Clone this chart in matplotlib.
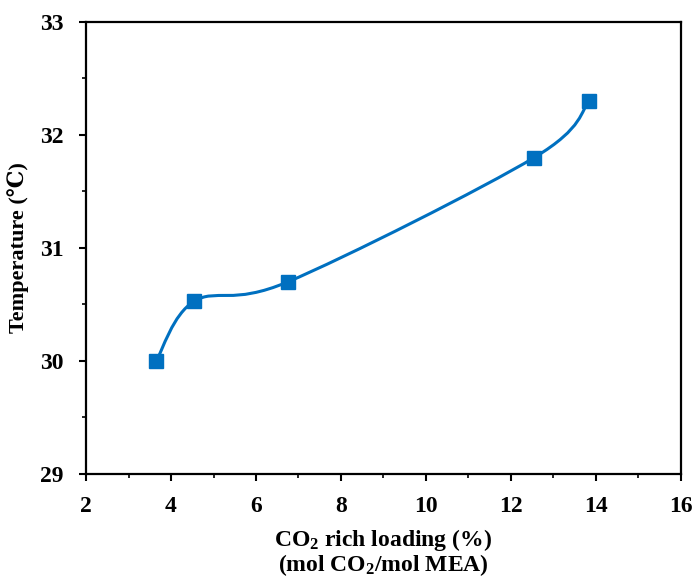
import numpy as np
import matplotlib
matplotlib.use("Agg")
import matplotlib.pyplot as plt
from matplotlib.path import Path
from matplotlib.patches import PathPatch
from matplotlib.ticker import MultipleLocator

# CO2 rich loading vs. absorber temperature
loading = [3.65, 4.55, 6.75, 12.55, 13.85]
temperature = [30.0, 30.53, 30.7, 31.8, 32.3]

plt.rcParams['font.family'] = ['Liberation Serif', 'DejaVu Serif']
plt.rcParams['font.weight'] = 'bold'
plt.rcParams['mathtext.fontset'] = 'custom'
plt.rcParams['mathtext.rm'] = 'Liberation Serif:bold'
plt.rcParams['mathtext.default'] = 'rm'

blue = '#0070C0'

fig = plt.figure(figsize=(6.94, 5.77), dpi=100)
ax = fig.add_axes([0.124, 0.1785, 0.857, 0.7835])


def smooth_path(x, y):
    # Excel-style smoothed line: cubic Bezier with Catmull-Rom control points
    x = np.asarray(x, float)
    y = np.asarray(y, float)
    px = np.concatenate([[x[0]], x, [x[-1]]])
    py = np.concatenate([[y[0]], y, [y[-1]]])
    verts = [(x[0], y[0])]
    codes = [Path.MOVETO]
    for i in range(1, len(px) - 2):
        c1 = (px[i] + (px[i + 1] - px[i - 1]) / 6, py[i] + (py[i + 1] - py[i - 1]) / 6)
        c2 = (px[i + 1] - (px[i + 2] - px[i]) / 6, py[i + 1] - (py[i + 2] - py[i]) / 6)
        verts += [c1, c2, (px[i + 1], py[i + 1])]
        codes += [Path.CURVE4] * 3
    return Path(verts, codes)


ax.add_patch(PathPatch(smooth_path(loading, temperature), facecolor='none',
                       edgecolor=blue, lw=2.2, zorder=2))
ax.plot(loading, temperature, linestyle='none', marker='s', markersize=10.5,
        color=blue, zorder=3)

ax.set_xlim(2, 16)
ax.set_ylim(29, 33)
ax.xaxis.set_major_locator(MultipleLocator(2))
ax.xaxis.set_minor_locator(MultipleLocator(1))
ax.yaxis.set_major_locator(MultipleLocator(1))
ax.yaxis.set_minor_locator(MultipleLocator(0.5))

for s in ax.spines.values():
    s.set_linewidth(1.6)
ax.tick_params(which='major', direction='out', length=5, width=1.5,
               labelsize=17, pad=11)
ax.tick_params(which='minor', direction='out', length=3, width=1.2)
for lab in ax.get_xticklabels() + ax.get_yticklabels():
    lab.set_fontweight('bold')

# two-line x label, placed explicitly
xc = 0.124 + 0.857 / 2
fig.text(xc, 0.064, 'CO$_2$ rich loading (%)', ha='center', va='center',
         fontsize=17, fontweight='bold')
fig.text(xc, 0.021, '(mol CO$_2$/mol MEA)', ha='center', va='center',
         fontsize=17, fontweight='bold')
ax.set_ylabel('Temperature (\u2103)', fontsize=16, fontweight='bold', labelpad=8)

fig.savefig('out.png', dpi=100)
